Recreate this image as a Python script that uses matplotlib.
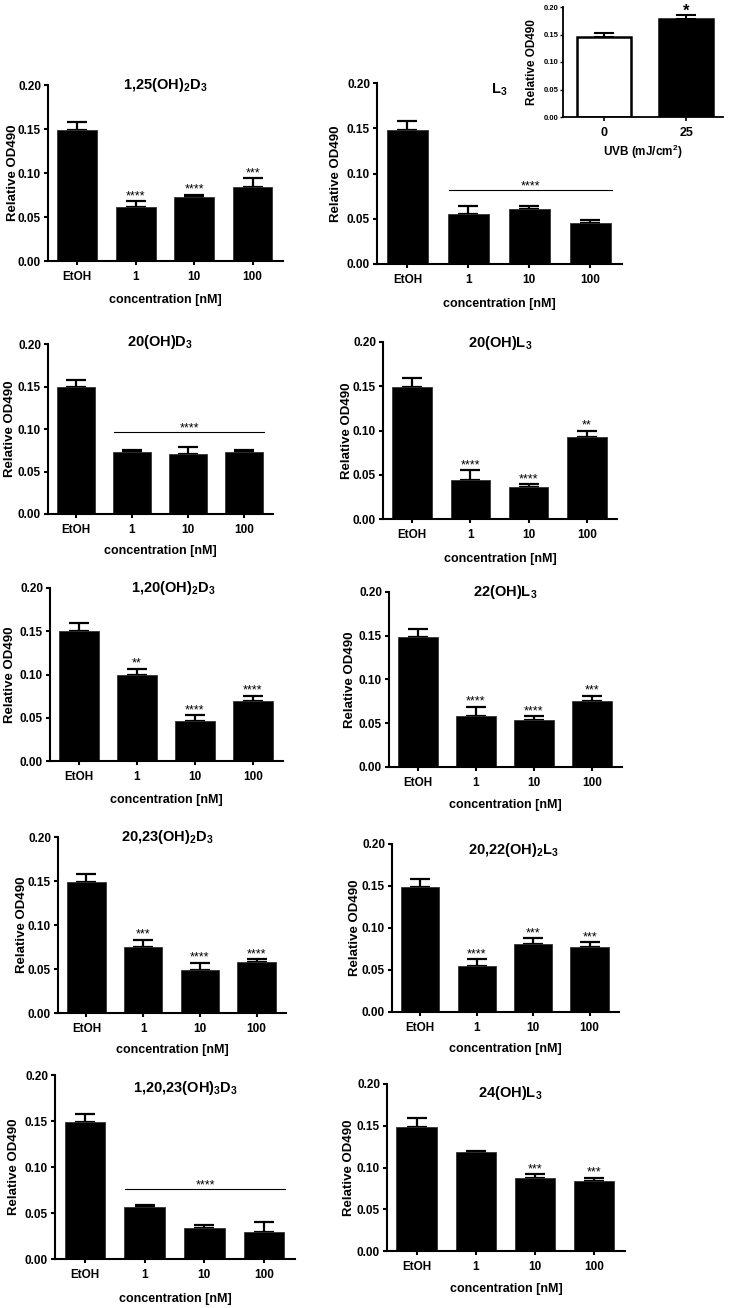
import numpy as np
import matplotlib
matplotlib.use('Agg')
import matplotlib.pyplot as plt
from matplotlib.transforms import blended_transform_factory

plt.rcParams['font.family'] = ['Liberation Sans', 'DejaVu Sans']
plt.rcParams['font.weight'] = 'bold'
plt.rcParams['mathtext.default'] = 'regular'

W, H = 731, 1308

# datos
groups = ['EtOH', '1', '10', '100']

titles = ['1,25(OH)$_2$D$_3$', 'L$_3$', '20(OH)D$_3$', '20(OH)L$_3$',
          '1,20(OH)$_2$D$_3$', '22(OH)L$_3$', '20,23(OH)$_2$D$_3$',
          '20,22(OH)$_2$L$_3$', '1,20,23(OH)$_3$D$_3$', '24(OH)L$_3$']

m_125d3 = [0.149, 0.061, 0.073, 0.084]
e_125d3 = [0.009, 0.007, 0.002, 0.010]
m_l3 = [0.148, 0.0556, 0.061, 0.045]
e_l3 = [0.010, 0.009, 0.003, 0.004]
m_20d3 = [0.149, 0.0724, 0.071, 0.073]
e_20d3 = [0.009, 0.0024, 0.008, 0.0018]
m_20l3 = [0.1496, 0.0444, 0.036, 0.0925]
e_20l3 = [0.0094, 0.0105, 0.003, 0.0071]
m_120d3 = [0.150, 0.0994, 0.046, 0.0697]
e_120d3 = [0.0095, 0.0073, 0.007, 0.0058]
m_22l3 = [0.1486, 0.0583, 0.0533, 0.075]
e_22l3 = [0.0091, 0.0103, 0.0046, 0.0065]
m_2023d3 = [0.149, 0.075, 0.049, 0.058]
e_2023d3 = [0.009, 0.0083, 0.0078, 0.003]
m_2022l3 = [0.149, 0.055, 0.081, 0.0778]
e_2022l3 = [0.009, 0.008, 0.0067, 0.0052]
m_12023d3 = [0.149, 0.057, 0.0336, 0.029]
e_12023d3 = [0.009, 0.002, 0.0034, 0.0108]
m_24l3 = [0.149, 0.118, 0.088, 0.084]
e_24l3 = [0.010, 0.002, 0.004, 0.004]

means = [m_125d3, m_l3, m_20d3, m_20l3, m_120d3, m_22l3, m_2023d3, m_2022l3, m_12023d3, m_24l3]
errs = [e_125d3, e_l3, e_20d3, e_20l3, e_120d3, e_22l3, e_2023d3, e_2022l3, e_12023d3, e_24l3]

stars = [['', '****', '****', '***'], None, None, ['', '****', '****', '**'],
         ['', '**', '****', '****'], ['', '****', '****', '***'],
         ['', '***', '****', '****'], ['', '****', '***', '***'], None,
         ['', '', '***', '***']]
# barra de significancia comun (panel: nivel)
brackets = {1: 0.082, 2: 0.0965, 8: 0.076}

# inset UVB
uvb_dose = ['0', '25']
uvb_mean = [0.145, 0.178]
uvb_err = [0.007, 0.008]

# layout en pixeles (x0, ytop, x1, ybottom)
boxes = [(48, 85, 283, 261), (377, 83, 622, 264), (48, 344, 273, 514), (383, 342, 617, 519),
         (50, 588, 283, 761), (389, 592, 622, 767), (58, 837, 286, 1013), (392, 844, 619, 1012),
         (55, 1075, 295, 1259), (387, 1084, 625, 1251)]
title_xy = [(165, 85), (499, 90), (160, 342), (500, 343), (173, 588), (505, 592),
            (167, 837), (513, 850), (185, 1088), (510, 1093)]
ylab_x = [13, 336, 10, 347, 10, 350, 22, 355, 14, 349]
xlab_y = [298, 302, 549, 557, 798, 803, 1048, 1047, 1297, 1287]

fig = plt.figure(figsize=(W / 100, H / 100), dpi=100)


def px_axes(b):
    x0, y0, x1, y1 = b
    return fig.add_axes([x0 / W, 1 - y1 / H, (x1 - x0) / W, (y1 - y0) / H])


def style(ax, lw=1.5):
    for s in ['top', 'right']:
        ax.spines[s].set_visible(False)
    for s in ['left', 'bottom']:
        ax.spines[s].set_linewidth(lw)


x = np.arange(len(groups))
for k in range(10):
    ax = px_axes(boxes[k])
    style(ax)
    mu = means[k]
    er = errs[k]
    ax.bar(x, mu, width=0.68, color='black', edgecolor='#333333', linewidth=0.6, zorder=2)
    ax.errorbar(x, mu, yerr=[np.zeros(len(mu)), er], fmt='none', ecolor='black',
                elinewidth=1.6, capsize=7.5, capthick=1.6, zorder=1)
    ax.set_xlim(-0.5, 3.52)
    ax.set_ylim(0, 0.2)
    ax.set_yticks([0, 0.05, 0.10, 0.15, 0.20])
    ax.set_yticklabels(['%.2f' % v for v in [0, 0.05, 0.10, 0.15, 0.20]])
    ax.set_xticks(x)
    ax.set_xticklabels(groups)
    ax.tick_params(axis='both', direction='out', length=3, width=1.5, labelsize=8.5, pad=2)
    ax.tick_params(axis='x', pad=4)
    ax.set_ylabel('Relative OD490', fontsize=9.5, fontweight='bold')
    ax.yaxis.set_label_coords((ylab_x[k] + 6) / W, 1 - (boxes[k][1] + boxes[k][3]) / 2 / H,
                              transform=fig.transFigure)
    ax.set_xlabel('concentration [nM]', fontsize=9, fontweight='bold')
    ax.xaxis.set_label_coords(0.5, 1 - (xlab_y[k] - 4) / H,
                              transform=blended_transform_factory(ax.transAxes, fig.transFigure))
    fig.text(title_xy[k][0] / W, 1 - title_xy[k][1] / H, titles[k], ha='center', va='center',
             fontsize=10.5, fontweight='bold')
    if stars[k] is not None:
        for i, s in enumerate(stars[k]):
            if s:
                ax.annotate(s, (x[i], mu[i] + er[i]), xytext=(0, 1.5), textcoords='offset points',
                            ha='center', va='baseline', fontsize=9, fontweight='normal')
    if k in brackets:
        yb = brackets[k]
        ax.plot([0.68, 3.36], [yb, yb], color='black', lw=0.8)
        ax.annotate('****', (2.02, yb), xytext=(0, 0.5), textcoords='offset points',
                    ha='center', va='baseline', fontsize=9, fontweight='normal')

# inset
axi = px_axes((563, 7, 723, 117))
style(axi, lw=1.3)
xi = np.arange(len(uvb_dose))
axi.bar(xi, uvb_mean, width=0.65, color=['white', 'black'], edgecolor='black', linewidth=1.8, zorder=2)
axi.errorbar(xi, uvb_mean, yerr=[np.zeros(2), uvb_err], fmt='none', ecolor='black',
             elinewidth=1.5, capsize=7.5, capthick=1.5, zorder=1)
axi.set_xlim(-0.5, 1.45)
axi.set_ylim(0, 0.2)
axi.set_yticks([0, 0.05, 0.10, 0.15, 0.20])
axi.set_yticklabels(['%.2f' % v for v in [0, 0.05, 0.10, 0.15, 0.20]])
axi.set_xticks(xi)
axi.set_xticklabels(uvb_dose, fontsize=9)
axi.tick_params(axis='y', direction='out', length=2, width=1, labelsize=5.5, pad=1)
axi.tick_params(axis='x', direction='out', length=3, width=1.2, pad=4)
axi.set_ylabel('Relative OD490', fontsize=8.5, fontweight='bold')
axi.yaxis.set_label_coords((533 + 5) / W, 1 - 62 / H, transform=fig.transFigure)
axi.set_xlabel('UVB (mJ/cm$^2$)', fontsize=8.5, fontweight='bold')
axi.xaxis.set_label_coords(0.5, 1 - (148 - 5) / H,
                           transform=blended_transform_factory(axi.transAxes, fig.transFigure))
axi.annotate('*', (xi[1], uvb_mean[1] + uvb_err[1]), xytext=(0, -1), textcoords='offset points',
             ha='center', va='baseline', fontsize=12, fontweight='bold')

fig.savefig('out.png', dpi=100)
